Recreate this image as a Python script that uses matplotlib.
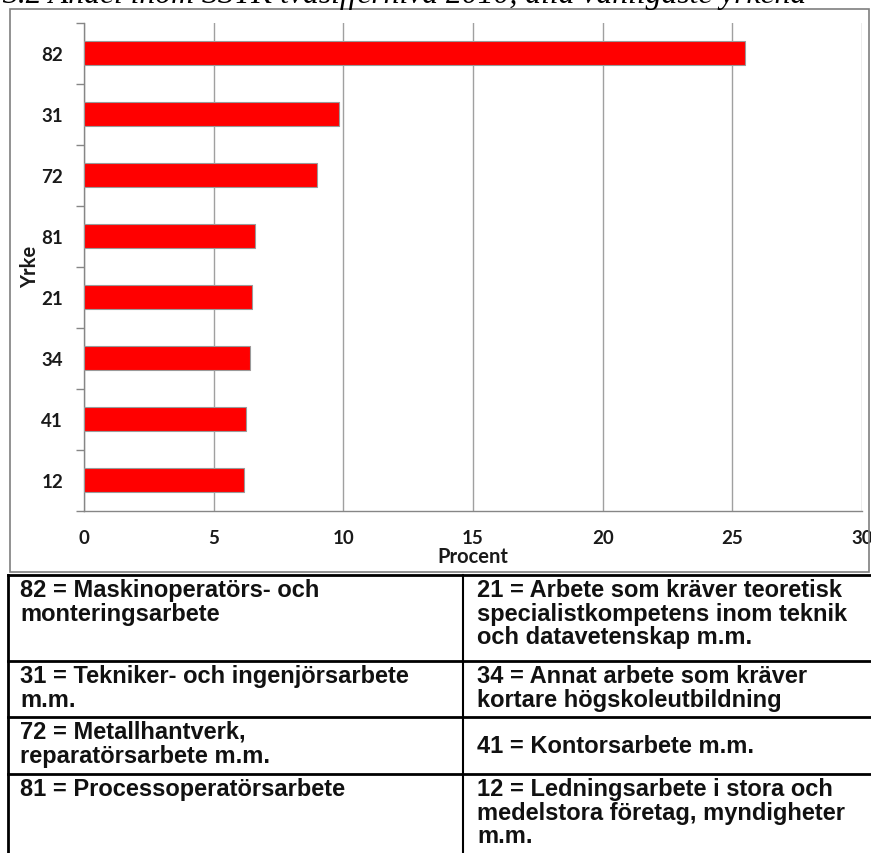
import matplotlib
matplotlib.use("Agg")
from matplotlib import pyplot as plt
from matplotlib.lines import Line2D
from matplotlib.patches import Rectangle

codes = ["82", "31", "72", "81", "21", "34", "41", "12"]
values = [25.5, 9.82, 9.0, 6.58, 6.46, 6.4, 6.25, 6.17]
xticks = [0, 5, 10, 15, 20, 25, 30]

title = "3.2 Andel inom SSYK tvåsiffernivå 2010, alla vanligaste yrkena"

# legend table, one list per row: (left cell lines, right cell lines)
row1 = (["82 = Maskinoperatörs- och", "monteringsarbete"],
        ["21 = Arbete som kräver teoretisk", "specialistkompetens inom teknik",
         "och datavetenskap m.m."])
row2 = (["31 = Tekniker- och ingenjörsarbete", "m.m."],
        ["34 = Annat arbete som kräver", "kortare högskoleutbildning"])
row3 = (["72 = Metallhantverk,", "reparatörsarbete m.m."],
        ["41 = Kontorsarbete m.m."])
row4 = (["81 = Processoperatörsarbete"],
        ["12 = Ledningsarbete i stora och", "medelstora företag, myndigheter", "m.m."])
table_rows = [row1, row2, row3, row4]

W, H = 871, 854
fig = plt.figure(figsize=(W / 100, H / 100), dpi=100)

def fx(px):
    return px / W

def fy(py):
    return 1 - py / H

lab_font = dict(family=["Lato", "DejaVu Sans"], fontweight="bold", fontsize=13.5, color="#1a1a1a")
name_font = dict(lab_font, fontsize=14.5)

# chart
x0, x1, y0, y1 = 84, 862, 23.7, 511.7
ax = fig.add_axes([fx(x0), fy(y1), fx(x1 - x0), (y1 - y0) / H])
ax.barh(range(len(codes)), values, height=0.4, color="#ff0000",
        edgecolor="#9a9a9a", linewidth=0.8, zorder=3)
ax.set_ylim(len(codes) - 0.5, -0.5)
ax.set_xlim(0, 30)
ax.set_yticks(range(len(codes)))
ax.set_yticklabels(codes, **lab_font)
ax.set_yticks([i - 0.5 for i in range(len(codes) + 1)], minor=True)
ax.tick_params(axis="y", which="major", length=0, pad=15)
ax.tick_params(axis="y", which="minor", length=6, color="#868686", width=1)
ax.set_xticks(xticks)
ax.set_xticklabels([str(t) for t in xticks], **lab_font)
ax.tick_params(axis="x", length=0, pad=13)
ax.grid(axis="x", color="#a0a0a0", linewidth=1, zorder=0)
for s in ["top", "right"]:
    ax.spines[s].set_visible(False)
for s in ["left", "bottom"]:
    ax.spines[s].set_color("#868686")
    ax.spines[s].set_linewidth(1)

fig.text(fx((x0 + x1) / 2), fy(557), "Procent", ha="center", va="center", **name_font)
fig.text(fx(30), fy(267), "Yrke", ha="center", va="center", rotation=90, **name_font)

# chart frame
fig.add_artist(Rectangle((fx(10), fy(573)), fx(869 - 10), (573 - 10) / H,
                         transform=fig.transFigure, fill=False,
                         edgecolor="#7f7f7f", linewidth=1.2))

# cut off title at the top
fig.text(fx(2), fy(3), title, ha="left", va="baseline",
         family="Liberation Serif", style="italic", fontsize=22.8)

# legend table
row_lines = [576, 662, 718, 775, 860]
div_x = 463
for yy in row_lines[:-1]:
    fig.add_artist(Line2D([fx(8), fx(871)], [fy(yy), fy(yy)], color="black", linewidth=2))
fig.add_artist(Line2D([fx(8), fx(8)], [fy(576), fy(854)], color="black", linewidth=2))
fig.add_artist(Line2D([fx(div_x), fx(div_x)], [fy(576), fy(854)], color="black", linewidth=1.5))

tab_font = dict(family="Liberation Sans", fontweight="bold", fontsize=17, color="#111111")
for i, (left, right) in enumerate(table_rows):
    top = row_lines[i]
    bot = row_lines[i + 1]
    for xx, lines in [(20, left), (477, right)]:
        n_other = len(right) if lines is left else len(left)
        if len(lines) == 1 and n_other == 2:
            fig.text(fx(xx), fy((top + min(bot, 854)) / 2), lines[0], ha="left", va="center", **tab_font)
        else:
            fig.text(fx(xx), fy(top + 3), "\n".join(lines), ha="left", va="top",
                     linespacing=1.03, **tab_font)

fig.savefig("out.png", dpi=100)
